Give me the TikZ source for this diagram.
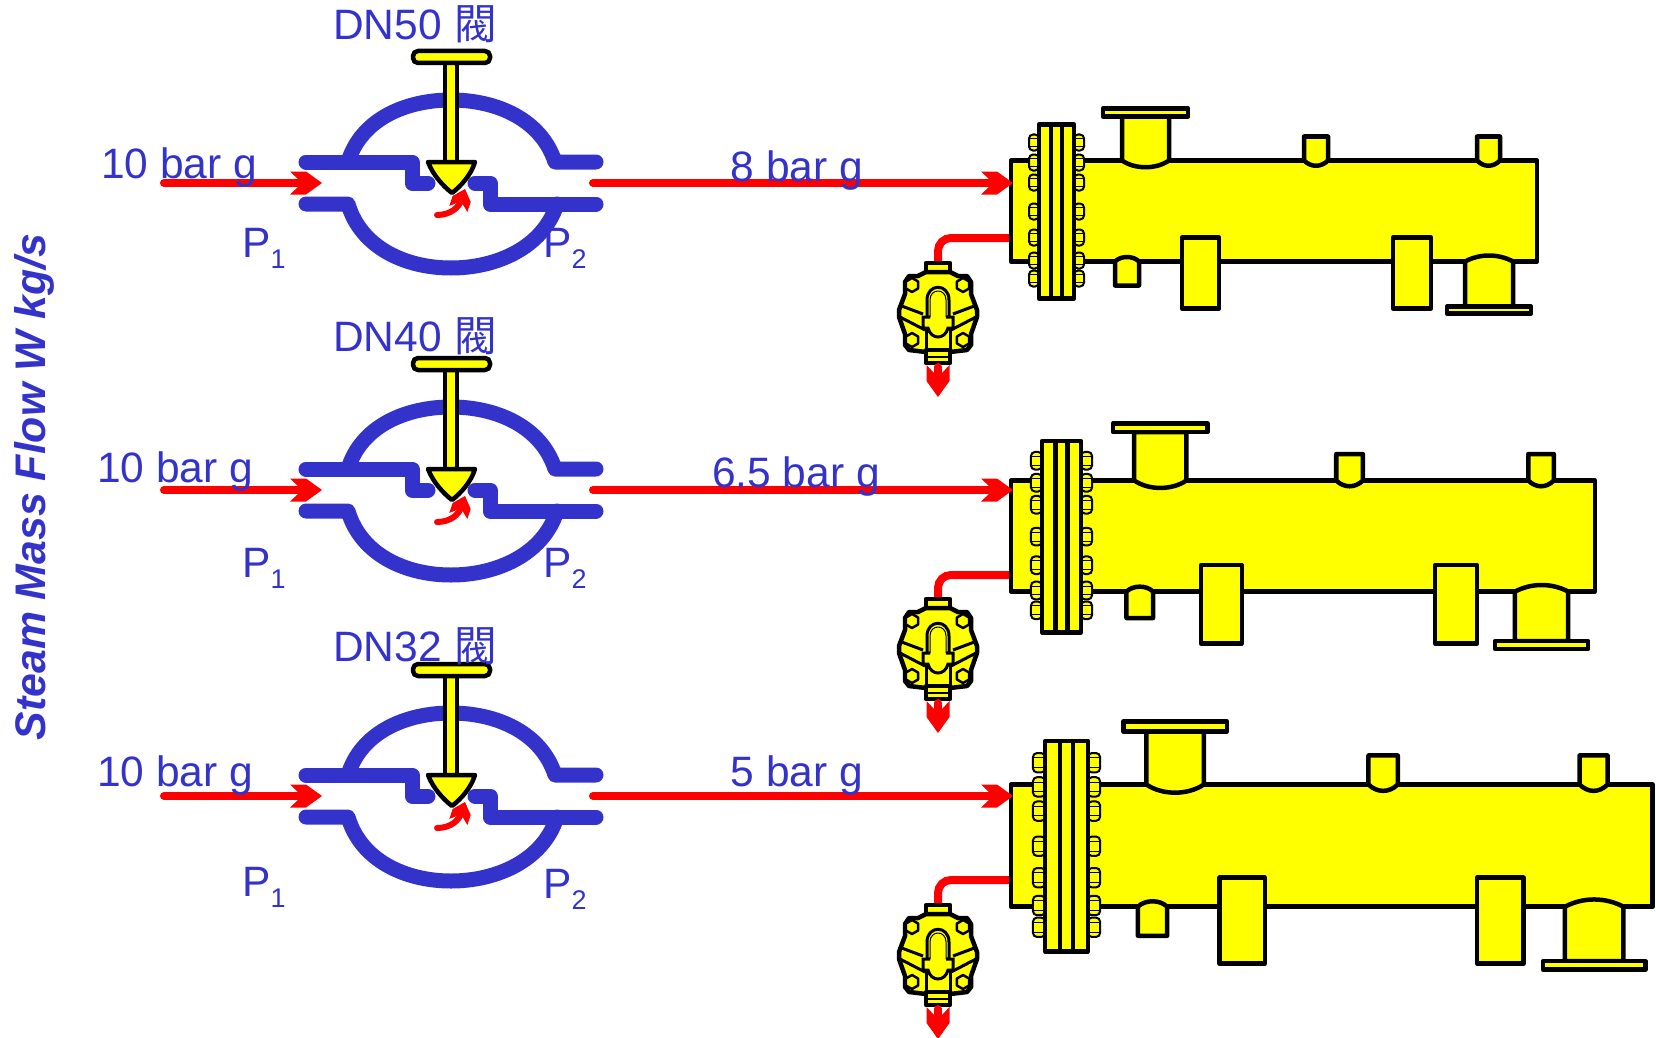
\documentclass[tikz,border=0pt]{standalone}
\usepackage{fontspec}
\usepackage{tikz}
\usetikzlibrary{arrows.meta}
\setmainfont{Liberation Sans}
\newfontfamily\cjkfont{Noto Sans CJK TC}
\definecolor{labelblue}{HTML}{3333CC}
\definecolor{steamred}{HTML}{FF0000}
\definecolor{bodyyellow}{HTML}{FFFF00}
\newcommand{\psub}[1]{P\raisebox{-.27em}{\fontsize{27}{27}\selectfont #1}}
\pgfdeclarearrow{
  name=Flowhead,
  defaults={length=32pt, width=23pt},
  parameters={\the\pgfarrowlength,\the\pgfarrowwidth},
  setup code={
    \pgfarrowssettipend{0pt}
    \pgfarrowssetbackend{-\pgfarrowlength}
    \pgfarrowssetlineend{-.55\pgfarrowlength}
    \pgfarrowssavethe\pgfarrowlength
    \pgfarrowssavethe\pgfarrowwidth
  },
  drawing code={
    \pgfpathmoveto{\pgfqpoint{0pt}{0pt}}
    \pgfpathlineto{\pgfqpoint{-.5\pgfarrowlength}{.5\pgfarrowwidth}}
    \pgfpathlineto{\pgfqpoint{-\pgfarrowlength}{.5\pgfarrowwidth}}
    \pgfpathlineto{\pgfqpoint{-.62\pgfarrowlength}{0pt}}
    \pgfpathlineto{\pgfqpoint{-\pgfarrowlength}{-.5\pgfarrowwidth}}
    \pgfpathlineto{\pgfqpoint{-.5\pgfarrowlength}{-.5\pgfarrowwidth}}
    \pgfpathclose
    \pgfusepathqfill
  }
}
\tikzset{%
  label/.style={
    text=labelblue,
    inner sep=0pt,
    anchor=base,
    font=\fontsize{42.5}{42.5}\selectfont},
  outline/.style={
    draw=black,
    fill=bodyyellow,
    line width=4.5pt,
    line join=round},
  seat/.style={
    draw=labelblue,
    line width=15pt,
    line cap=round,
    line join=round},
  flow/.style={
    draw=steamred,
    line width=8pt,
    line cap=round,
    -{Flowhead}},
  drain/.style={
    draw=steamred,
    line width=8pt,
    rounded corners=13pt},
  bolt/.style={
    draw=black,
    fill=bodyyellow,
    line width=2pt,
    rounded corners=4pt},
  valve/.pic={
    \coordinate (-in) at (-287,0);
    \coordinate (-tip) at (-129,0);
    \coordinate (-out) at (142,0);
    \draw[seat] (-145,-21) -- (-39,-21) -- (-39,0) -- (-23,0);
    \draw[seat] (-103,-21) .. controls (-90,-64) and (-45,-83) .. (0,-83)
        .. controls (45,-83) and (90,-64) .. (104,-21) -- (145,-21);
    \draw[seat] (-145,21) -- (-103,21) .. controls (-90,65) and (-45,85) .. (0,85)
        .. controls (45,85) and (92,65) .. (106,21);
    \draw[seat] (145,21) -- (39,21) -- (39,0) -- (24,0);
    \path[outline] (-6,-125) rectangle (6,-21);
    \path[outline, rounded corners=5pt] (-38,-132) rectangle (39,-120);
    \path[outline] (-23,-21) -- (24,-21) .. controls (20,-8) and (10,3) .. (1,10)
        .. controls (-8,3) and (-18,-8) .. (-23,-21) -- cycle;
    \draw[draw=steamred, line width=6pt, line cap=round, -{Flowhead[length=21pt,width=19pt]}]
        (-14,32) .. controls (0,32) and (8,24) .. (14,6);
  },
  exchanger/.pic={
    \coordinate (-w) at (2,0);
    \path[outline] (0,0) rectangle (526,101);
    % bolts either side of the flange
    \foreach \y in {-18,2,22,51,77,100,118} {
      \path[bolt] (18,\y-8) rectangle (28,\y+8);
      \path[bolt] (63,\y-8) rectangle (73,\y+8);
      \draw[line width=1pt] (18,\y-4) -- (28,\y-4) (18,\y+4) -- (28,\y+4)
                            (63,\y-4) -- (73,\y-4) (63,\y+4) -- (73,\y+4);
    }
    \path[outline] (28,-36) rectangle (63,138);
    \draw[line width=4.5pt] (40,-36) -- (40,138) (51,-36) -- (51,138);
    % nozzles on top
    \path[outline] (111,-44) -- (111,0) .. controls (124,9) and (145,9) .. (158,0) -- (158,-44) -- cycle;
    \path[outline] (92,-52) rectangle (177,-44);
    \path[outline] (293,-24) -- (293,0) .. controls (300,7) and (310,7) .. (317,0) -- (317,-24) -- cycle;
    \path[outline] (466,-24) -- (466,0) .. controls (473,7) and (482,7) .. (489,0) -- (489,-24) -- cycle;
    % nozzles and saddles below
    \path[outline] (104,125) -- (104,101) .. controls (110,95) and (122,95) .. (128,101) -- (128,125) -- cycle;
    \path[outline] (171,77) rectangle (208,148);
    \path[outline] (382,77) rectangle (420,148);
    \path[outline] (454,146) -- (454,101) .. controls (469,93) and (487,93) .. (502,101) -- (502,146) -- cycle;
    \path[outline] (436,146) rectangle (520,153);
  },
  trap/.pic={
    \coordinate (-top) at (0,-1);
    \coordinate (-bot) at (0,105);
    \coordinate (-end) at (0,135);
    \path[outline] (-12,1) rectangle (12,12);
    \path[outline] (-12,10) -- (-20,14) -- (-29,14) -- (-33,20) -- (-33,32) -- (-39,48) -- (-39,55)
        -- (-33,72) -- (-33,83) -- (-29,88) -- (-12,90) -- (12,90) -- (29,88) -- (33,83) -- (33,72)
        -- (39,55) -- (39,48) -- (33,32) -- (33,20) -- (29,14) -- (20,14) -- (12,10) -- cycle;
    \path[outline] (-12,88) rectangle (12,101);
    \draw[line width=2.5pt] (-12,95) -- (12,95);
    \foreach \x/\y in {-26/23,25/23,-26/78,25/78}
      \path[outline, line width=2.5pt] (\x,\y) +(30:7) -- +(90:7) -- +(150:7) -- +(210:7) -- +(270:7) -- +(330:7) -- cycle;
    \draw[line width=3pt] (-39,43) -- (-15,52) (39,43) -- (15,52) (-38,55) -- (-13,68) (38,55) -- (13,68);
    \path[outline, line width=3pt] (-11,55) -- (-11,38) .. controls (-11,21) and (11,21) .. (11,38) -- (11,55) -- cycle;
    \path[outline, line width=1pt] (-8,55) -- (-8,38) .. controls (-8,26) and (8,26) .. (8,38) -- (8,55) -- (15,55) -- (15,66) -- (10,66)
        .. controls (7,78) and (-7,78) .. (-10,66) -- (-15,66) -- (-15,55) -- cycle;
    \draw[line width=3pt] (-8,55) -- (-15,55) -- (-15,66) -- (-10,66) .. controls (-7,78) and (7,78) .. (10,66)
        -- (15,66) -- (15,55) -- (8,55);
    \draw[line width=3pt] (-12,66) -- (-12,90) (12,66) -- (12,90);
  }
}

\begin{document}
\begin{tikzpicture}[x=1pt, y=-1pt]
  \useasboundingbox (0,0) rectangle (1656,1038);
  \clip (0,0) rectangle (1656,1038);

  \pic (v1) at (451,183) {valve};
  \pic (v2) at (451,490) {valve};
  \pic (v3) at (451,796) {valve};

  \pic (ex1) at (1011,160.5) {exchanger};
  \pic[xscale=1.11, yscale=1.1] (ex2) at (1011,480.5) {exchanger};
  \pic[xscale=1.22, yscale=1.21] (ex3) at (1011,784.5) {exchanger};

  \pic (tr1) at (938,262) {trap};
  \pic (tr2) at (938,598) {trap};
  \pic (tr3) at (938,904) {trap};

  \coordinate (d1) at (1009,238);
  \coordinate (d2) at (1009,575);
  \coordinate (d3) at (1009,880);

  \draw[flow] (v1-in) -- (v1-tip);
  \draw[flow] (v2-in) -- (v2-tip);
  \draw[flow] (v3-in) -- (v3-tip);

  \draw[flow] (v1-out) -- (v1-out -| ex1-w);
  \draw[flow] (v2-out) -- (v2-out -| ex1-w);
  \draw[flow] (v3-out) -- (v3-out -| ex1-w);

  \draw[drain] (d1) -| (tr1-top);
  \draw[drain] (d2) -| (tr2-top);
  \draw[drain] (d3) -| (tr3-top);

  \draw[flow] (tr1-bot) -- (tr1-end);
  \draw[flow] (tr2-bot) -- (tr2-end);
  \draw[flow] (tr3-bot) -- (tr3-end);

  \node[label] (in1) at (179,178) {10 bar g};
  \node[label] (in2) at (175,482) {10 bar g};
  \node[label] (in3) at (175,786) {10 bar g};

  \node[label] (out1) at (797,181) {8 bar g};
  \node[label] (out2) at (796,487) {6.5 bar g};
  \node[label] (out3) at (797,786) {5 bar g};

  \node[label, anchor=base west] (dn1) at (333,40) {DN50\hspace{1pt} {\cjkfont 閥}};
  \node[label, anchor=base west] (dn2) at (333,351) {DN40\hspace{1pt} {\cjkfont 閥}};
  \node[label, anchor=base west] (dn3) at (333,661) {DN32\hspace{1pt} {\cjkfont 閥}};

  \node[label] (p1a) at (264,257) {\psub{1}};
  \node[label] (p2a) at (565,257) {\psub{2}};
  \node[label] (p1b) at (264,577) {\psub{1}};
  \node[label] (p2b) at (565,577) {\psub{2}};
  \node[label] (p1c) at (264,896) {\psub{1}};
  \node[label] (p2c) at (565,898) {\psub{2}};

  \node[label, anchor=center, rotate=90, font=\fontsize{42.8}{42.8}\selectfont\bfseries\itshape] (axis)
    at (34,487) {Steam Mass Flow W kg/s};
\end{tikzpicture}
\end{document}
